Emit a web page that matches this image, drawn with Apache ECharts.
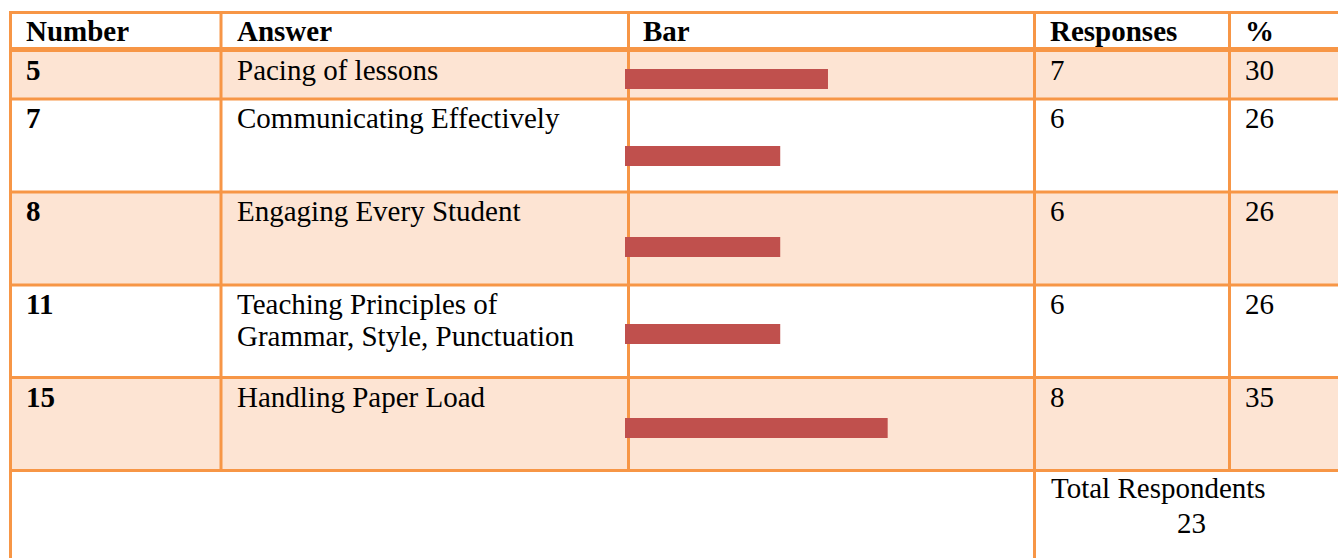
<!DOCTYPE html>
<html style="height: 100%">
<head>
    <meta charset="utf-8">
</head>
<body style="height: 100%; margin: 0; background-color: #fff;">
<div id="container" style="width: 1338px; height: 558px"></div>
<script type="text/javascript" src="https://cdn.jsdelivr.net/npm/echarts@6/dist/echarts.min.js"></script>
<script type="text/javascript">
var headers = ['Number', 'Answer', 'Bar', 'Responses', '%'];
var numbers = ['5', '7', '8', '11', '15'];
var answers = ['Pacing of lessons', 'Communicating Effectively', 'Engaging Every Student',
    'Teaching Principles of\nGrammar, Style, Punctuation', 'Handling Paper Load'];
var responses = [7, 6, 6, 6, 8];
var percents = [30, 26, 26, 26, 35];
var totalLabel = 'Total Respondents';
var totalRespondents = 23;

// layout of the table (pixels)
var lineColor = '#F79646';
var fillColor = '#FDE4D3';
var barColor = '#C0504D';
var font = 'Liberation Serif, Times New Roman, serif';
var fontSize = 29;
var lineH = 32;
var rowLines = [12.5, 49.5, 99, 192, 285, 377.5, 470.5];
var colX = [10.5, 221, 628.5, 1034.5, 1229.5];
var textX = [26, 237, 643, 1050, 1245];
var barCenters = [79, 156, 247, 334, 428];

var dom = document.getElementById('container');
var myChart = echarts.init(dom, null, { renderer: 'svg' });

var graphics = [];

// shaded rows 1, 3, 5
for (var i = 0; i < numbers.length; i += 2) {
    graphics.push({
        type: 'rect', silent: true,
        shape: { x: colX[0], y: rowLines[i + 1], width: 1338 - colX[0], height: rowLines[i + 2] - rowLines[i + 1] },
        style: { fill: fillColor }
    });
}

function hline(y, w) {
    graphics.push({
        type: 'line', silent: true,
        shape: { x1: colX[0] - 1.5, y1: y, x2: 1338, y2: y },
        style: { stroke: lineColor, lineWidth: w }
    });
}
function vline(x, y2) {
    graphics.push({
        type: 'line', silent: true,
        shape: { x1: x, y1: rowLines[0] - 1.5, x2: x, y2: y2 },
        style: { stroke: lineColor, lineWidth: 3 }
    });
}
for (var i = 0; i < rowLines.length; i++) {
    hline(rowLines[i], i === 1 ? 5 : 3);
}
vline(colX[0], 558);
vline(colX[1], rowLines[6]);
vline(colX[2], rowLines[6]);
vline(colX[3], 558);
vline(colX[4], rowLines[6]);

function text(x, baseline, str, bold) {
    graphics.push({
        type: 'text', silent: true,
        x: x, y: baseline - 0.3375 * fontSize - lineH / 2,
        style: {
            text: str, fill: '#000', font: (bold ? 'bold ' : '') + fontSize + 'px ' + font,
            lineHeight: lineH, verticalAlign: 'top', align: 'left'
        }
    });
}

for (var c = 0; c < headers.length; c++) {
    text(textX[c], 41, headers[c], true);
}
for (var i = 0; i < numbers.length; i++) {
    var base = rowLines[i + 1] + (i === 0 ? 2.5 : 1.5) + 27.5;
    text(textX[0], base, numbers[i], true);
    text(textX[1], base, answers[i], false);
    text(textX[3], base, String(responses[i]), false);
    text(textX[4], base, String(percents[i]), false);
}
text(1051, 498, totalLabel, false);
text(1177, 533, String(totalRespondents), false);

var grids = [], xAxes = [], yAxes = [], series = [];
for (var i = 0; i < numbers.length; i++) {
    grids.push({ left: 625, top: barCenters[i] - 10, width: 400, height: 20 });
    xAxes.push({ gridIndex: i, type: 'value', min: 13, max: 46.5, show: false });
    yAxes.push({ gridIndex: i, type: 'category', data: [numbers[i]], show: false });
    series.push({
        type: 'bar', xAxisIndex: i, yAxisIndex: i,
        data: [percents[i]], barWidth: 20, clip: true,
        itemStyle: { color: barColor }
    });
}

var option = {
    animation: false,
    grid: grids,
    xAxis: xAxes,
    yAxis: yAxes,
    graphic: graphics,
    series: series
};
myChart.setOption(option);
</script>
</body>
</html>
